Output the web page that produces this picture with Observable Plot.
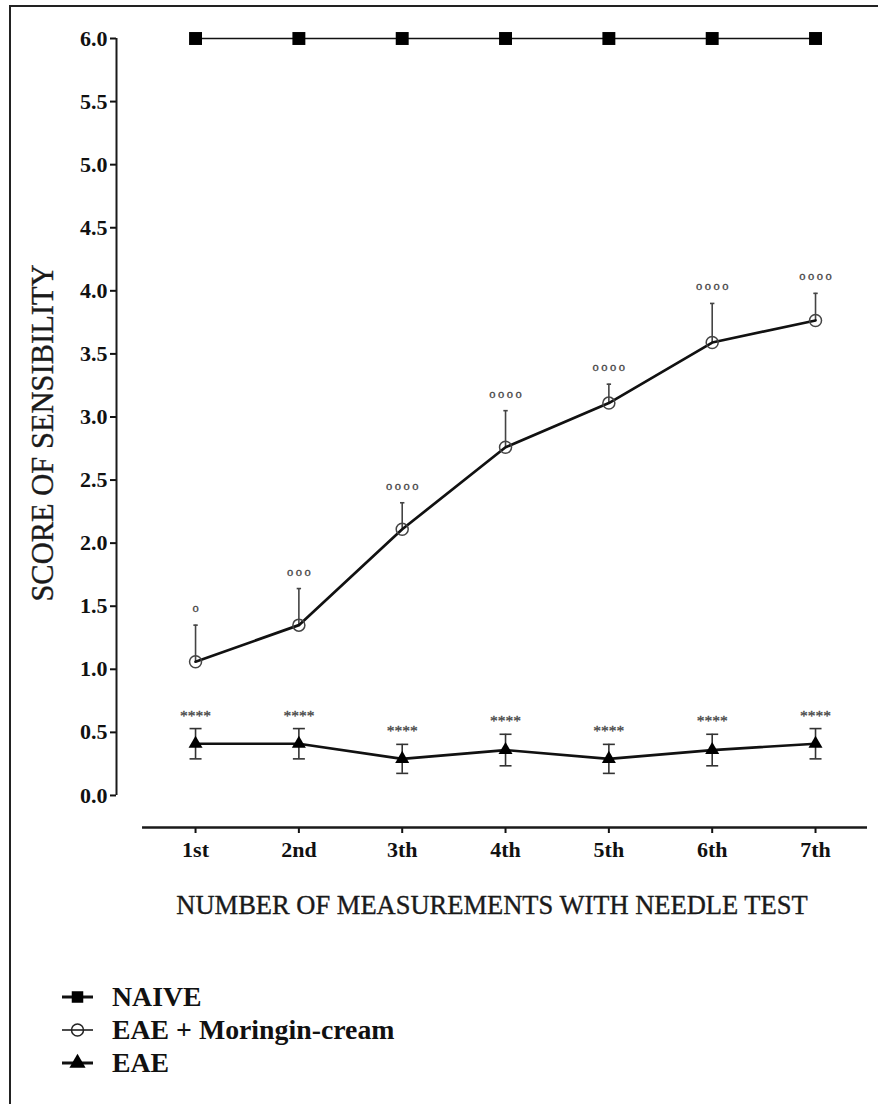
<!DOCTYPE html>
<html><head><meta charset="utf-8">
<script src="https://cdn.jsdelivr.net/npm/d3@7"></script>
<script src="https://cdn.jsdelivr.net/npm/@observablehq/plot@0.6"></script>
<style>
body{margin:0;background:#fff;font-family:"Liberation Serif","Tinos","DejaVu Serif","Noto Serif",serif;width:878px;height:1104px;overflow:hidden;position:relative}
#frame{position:absolute;left:9px;top:5px;width:900px;height:1200px;border-left:2px solid #222;border-top:2px solid #222;pointer-events:none}
#chart{position:absolute;left:0;top:0}
#legend{position:absolute;left:62px;top:980px}
.row{display:flex;align-items:center;height:33px;font-weight:bold;font-size:27.8px;color:#111;white-space:nowrap}
.row svg{margin-right:19px;flex:none}
</style></head><body>
<div id="chart"></div><div id="legend"></div><div id="frame"></div>
<script>
// ---- data ----
const measurements = ["1st","2nd","3th","4th","5th","6th","7th"];
const seriesNames = ["NAIVE","EAE + Moringin-cream","EAE"];
const naive = [6,6,6,6,6,6,6];
const moringin = [1.06,1.35,2.11,2.76,3.11,3.59,3.765];
const moringinSem = [0.29,0.29,0.21,0.29,0.15,0.31,0.215];
const eae = [0.41,0.41,0.29,0.36,0.29,0.36,0.41];
const eaeSem = [0.12,0.12,0.115,0.125,0.115,0.125,0.12];
const moringinSig = ["o","ooo","oooo","oooo","oooo","oooo","oooo"];
const eaeSig = ["****","****","****","****","****","****","****"];
const yTicks = [0,0.5,1,1.5,2,2.5,3,3.5,4,4.5,5,5.5,6];
const xTitle = "NUMBER OF MEASUREMENTS WITH NEEDLE TEST";
const yTitle = "SCORE OF SENSIBILITY";

// ---- scale layout ----
const xDomain = [0.235, 7.503];
const xAxisStart = 0.487;
const yDomain = [-0.254, 6];
const serif = "'Liberation Serif', 'Tinos', 'DejaVu Serif', 'Noto Serif', serif";

const rows = measurements.map((m, i) => ({
  i: i + 1, m,
  naive: naive[i],
  mor: moringin[i], morHi: moringin[i] + moringinSem[i], morSig: moringinSig[i].split("").join("\u2009"),
  eae: eae[i], eaeLo: eae[i] - eaeSem[i], eaeHi: eae[i] + eaeSem[i], eaeSig: eaeSig[i]
}));

const cap = {draw(ctx, size){ const h = Math.sqrt(size / Math.PI); ctx.moveTo(-h, 0); ctx.lineTo(h, 0); }};

const chart = Plot.plot({
  width: 878, height: 940,
  marginLeft: 116, marginRight: 11, marginTop: 38, marginBottom: 113,
  style: {fontFamily: serif, background: "transparent", color: "#111", overflow: "visible"},
  x: {domain: xDomain, axis: null},
  y: {domain: yDomain, axis: null},
  marks: [
    Plot.axisY({ticks: yTicks, tickFormat: d => d.toFixed(1), tickSize: 6, tickPadding: 3, fontSize: 22, fontWeight: "bold", fontFamily: serif, strokeWidth: 2, label: null}),
    Plot.axisX({ticks: rows.map(d => d.i), tickFormat: i => measurements[i - 1], tickSize: 6, tickPadding: 8, fontSize: 22, fontWeight: "bold", fontFamily: serif, strokeWidth: 2, label: null}),
    Plot.ruleX([xDomain[0]], {y1: 0, y2: 6, strokeWidth: 2, stroke: "#1a1a1a"}),
    Plot.ruleY([yDomain[0]], {x1: xAxisStart, x2: xDomain[1], strokeWidth: 2.5, stroke: "#1a1a1a"}),
    Plot.text([yTitle], {frameAnchor: "left", textAnchor: "middle", rotate: -90, dx: -73, fontSize: 30.5, fontFamily: serif, fill: "#1a1a1a", stroke: "#1a1a1a", strokeWidth: 0.35}),
    Plot.text([xTitle], {frameAnchor: "bottom", textAnchor: "middle", dy: 86, fontSize: 26.5, fontFamily: serif, fill: "#1a1a1a", stroke: "#1a1a1a", strokeWidth: 0.35}),
    // NAIVE
    Plot.line(rows, {x: "i", y: "naive", stroke: "#111", strokeWidth: 1.6}),
    Plot.dot(rows, {x: "i", y: "naive", symbol: "square", r: 7.3, fill: "#000", stroke: "none"}),
    // EAE + Moringin
    Plot.ruleX(rows, {x: "i", y1: "mor", y2: "morHi", stroke: "#444", strokeWidth: 1.6}),
    Plot.dot(rows, {x: "i", y: "morHi", symbol: cap, r: 2.2, stroke: "#444", strokeWidth: 1.6}),
    Plot.line(rows, {x: "i", y: "mor", stroke: "#111", strokeWidth: 2.7}),
    Plot.dot(rows, {x: "i", y: "mor", r: 6, fill: "none", stroke: "#444", strokeWidth: 1.5}),
    Plot.text(rows, {x: "i", y: "morHi", text: "morSig", dy: -17, fontSize: 12.5, fontFamily: serif, fill: "#444", stroke: "#444", strokeWidth: 0.3}),
    // EAE
    Plot.ruleX(rows, {x: "i", y1: "eaeLo", y2: "eaeHi", stroke: "#333", strokeWidth: 1.6}),
    Plot.dot(rows, {x: "i", y: "eaeLo", symbol: cap, r: 6, stroke: "#333", strokeWidth: 1.6}),
    Plot.dot(rows, {x: "i", y: "eaeHi", symbol: cap, r: 6, stroke: "#333", strokeWidth: 1.6}),
    Plot.line(rows, {x: "i", y: "eae", stroke: "#111", strokeWidth: 2.7}),
    Plot.dot(rows, {x: "i", y: "eae", symbol: "triangle", r: 5.2, fill: "#000", stroke: "none"}),
    Plot.text(rows, {x: "i", y: "eaeHi", text: "eaeSig", dy: -13, fontSize: 15.5, fontFamily: serif, fill: "#444", stroke: "#444", strokeWidth: 0.3})
  ]
});
document.getElementById("chart").appendChild(chart);

// ---- legend ----
const symbols = [
  {sym: d3.symbolSquare, size: Math.PI * 6.5 * 6.5, fill: "#000", stroke: "none", lw: 3},
  {sym: d3.symbolCircle, size: Math.PI * 6 * 6, fill: "none", stroke: "#222", lw: 1.5},
  {sym: d3.symbolTriangle, size: Math.PI * 6 * 6, fill: "#000", stroke: "none", lw: 3}
];
const legend = d3.select("#legend");
seriesNames.forEach((name, k) => {
  const row = legend.append("div").attr("class", "row");
  const s = row.append("svg").attr("width", 31).attr("height", 20);
  s.append("line").attr("x1", 0).attr("x2", 31).attr("y1", 10).attr("y2", 10).attr("stroke", "#111").attr("stroke-width", symbols[k].lw);
  s.append("path").attr("transform", "translate(15.5,10)").attr("d", d3.symbol(symbols[k].sym, symbols[k].size)())
    .attr("fill", symbols[k].fill).attr("stroke", symbols[k].stroke).attr("stroke-width", 1.5);
  row.append("span").text(name);
});
</script>
</body></html>
